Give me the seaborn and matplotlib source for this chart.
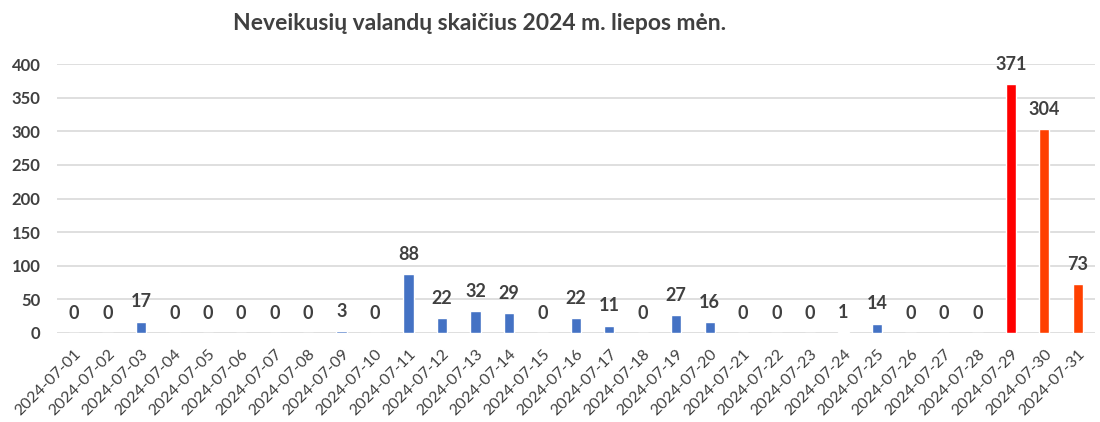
import numpy as np
import pandas as pd
import seaborn as sns
import matplotlib.pyplot as plt

# data
dates = ['2024-07-%02d' % d for d in range(1, 32)]
hours = [0, 0, 17, 0, 0, 0, 0, 0, 3, 0,
         88, 22, 32, 29, 0, 22, 11, 0, 27, 16,
         0, 0, 0, 1, 14, 0, 0, 0, 371, 304, 73]
bar_colors = ['#4472C4'] * 28 + ['#FF0000', '#FF4000', '#FF4000']
title = 'Neveikusių valandų skaičius 2024 m. liepos mėn.'

df = pd.DataFrame({'date': dates, 'hours': hours})

sns.set_theme(style='white')
plt.rcParams['font.family'] = ['Lato', 'DejaVu Sans']
txt = '#404040'

fig = plt.figure(figsize=(11, 4.22), dpi=100)
ax = fig.add_axes([0.052, 0.211, 0.943, 0.637])

sns.barplot(data=df, x='date', y='hours', hue='date', palette=bar_colors,
            legend=False, width=0.31, saturation=1, ax=ax)

for c in ax.containers:
    ax.bar_label(c, padding=8, fontsize=13, fontweight='bold', color=txt)

ax.set_ylim(0, 400)
ax.set_xlim(-0.5, len(dates) - 0.5)
ax.set_yticks(range(0, 401, 50))
ax.yaxis.grid(True, color='#d9d9d9', linewidth=1.2)
ax.set_axisbelow(True)
for s in ax.spines.values():
    s.set_visible(False)
ax.set_xlabel('')
ax.set_ylabel('')
ax.tick_params(axis='y', labelsize=12, labelcolor=txt, length=0, pad=12)
for lab in ax.get_yticklabels():
    lab.set_fontweight('bold')
ax.tick_params(axis='x', labelsize=11.5, labelcolor=txt, length=0, pad=10)
plt.setp(ax.get_xticklabels(), rotation=45, ha='right', rotation_mode='anchor')

fig.text(0.436, 0.945, title, ha='center', va='center', fontsize=16.5,
         fontweight='bold', color=txt)

fig.savefig('out.png', dpi=100)
